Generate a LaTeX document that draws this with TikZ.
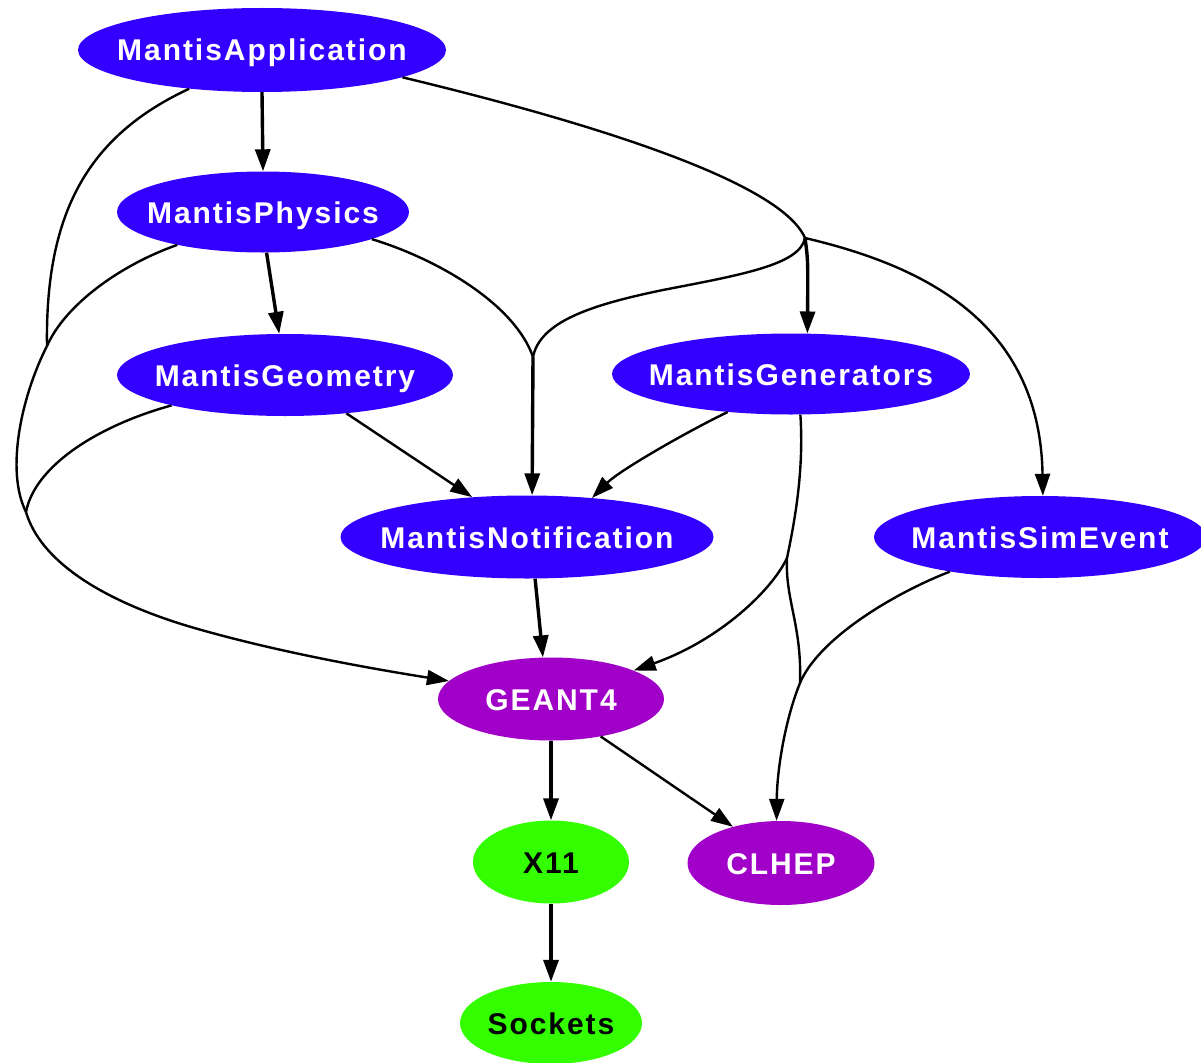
\documentclass[tikz,border=0pt]{standalone}
\usepackage{fontspec}
\newfontfamily\lblfont{Liberation Sans}[LetterSpace=6.5]
\usetikzlibrary{shapes.geometric,arrows.meta}
\definecolor{nblue}{RGB}{51,0,255}
\definecolor{npurple}{RGB}{160,0,200}
\definecolor{ngreen}{RGB}{51,255,0}
\begin{document}
\begin{tikzpicture}[x=1pt,y=-1pt,
  nd/.style={ellipse, draw=none, inner sep=0pt},
  lbl/.style={font=\lblfont\bfseries\fontsize{30}{30}\selectfont, text height=22pt, text depth=0pt, inner sep=0pt},
  wlbl/.style={lbl,text=white},
  blbl/.style={lbl,text=black},
  seg/.style={line width=2.4pt},
  conn/.style={line width=2.4pt,-{Triangle[length=22pt,width=15pt]}},
  vconn/.style={conn,line width=3.4pt}]
\useasboundingbox[fill=white] (0,0) rectangle (1201,1062);
% nodes
\node[nd, fill=nblue, minimum width=368pt, minimum height=84pt, label={[wlbl,name=app-l]center:MantisApplication}] (app) at (262,50) {};
\node[nd, fill=nblue, minimum width=292pt, minimum height=81pt, label={[wlbl,name=phys-l]center:MantisPhysics}] (phys) at (263,212) {};
\node[nd, fill=nblue, minimum width=336pt, minimum height=82pt, label={[wlbl,name=geom-l]center:MantisGeometry}] (geom) at (285,375) {};
\node[nd, fill=nblue, minimum width=358pt, minimum height=81pt, label={[wlbl,name=gen-l]center:MantisGenerators}] (gen) at (791,374) {};
\node[nd, fill=nblue, minimum width=373pt, minimum height=83pt, label={[wlbl,name=notif-l]center:MantisNotification}] (notif) at (527,537) {};
\node[nd, fill=nblue, minimum width=332pt, minimum height=82pt, label={[wlbl,name=sim-l]center:MantisSimEvent}] (sim) at (1040,537) {};
\node[nd, fill=npurple, minimum width=226pt, minimum height=83pt, label={[wlbl,name=geant-l]center:GEANT4}] (geant) at (551,699) {};
\node[nd, fill=ngreen, minimum width=156pt, minimum height=83pt, label={[blbl,name=x11-l]center:X11}] (x11) at (551,862) {};
\node[nd, fill=npurple, minimum width=187pt, minimum height=84pt, label={[wlbl,name=clhep-l]center:CLHEP}] (clhep) at (781,863) {};
\node[nd, fill=ngreen, minimum width=182pt, minimum height=82pt, label={[blbl,name=sock-l]center:Sockets}] (sock) at (551,1023) {};
% junctions
\coordinate (j1) at (805,238);
\coordinate (j2) at (533,357);
\coordinate (j3) at (47,346);
\coordinate (j4) at (26,512);
\coordinate (j5) at (787,558);
\coordinate (j6) at (800,683);
% edges
\draw[vconn] (app.south) -- (phys.north);
\draw[seg] (app.-11) .. controls (580,120) and (780,180) .. (j1);
\draw[vconn] (j1) .. controls (808,260) .. (gen.68);
\draw[seg] (j1) .. controls (800,265) and (740,275) .. (663,290) .. controls (590,305) and (540,322) .. (j2);
\draw[vconn] (j2) -- (notif.83);
\draw[conn] (j1) .. controls (920,265) and (1040,320) .. (sim.86);
\draw[seg] (app.208) .. controls (90,135) and (45,210) .. (j3);
\draw[seg] (phys.201) .. controls (120,265) and (65,305) .. (j3);
\draw[seg] (j3) .. controls (22,395) and (5,470) .. (j4);
\draw[seg] (geom.195) .. controls (100,425) and (35,465) .. (j4);
\draw[conn] (j4) .. controls (40,560) and (100,600) .. (191,627) .. controls (280,653) and (380,670) .. (geant.170);
\draw[vconn] (phys.-85) -- (geom.98);
\draw[seg] (phys.-14) .. controls (440,260) and (515,305) .. (j2);
\draw[conn] (geom.-32) -- (notif.144);
\draw[conn] (gen.211) .. controls (690,430) and (620,470) .. (notif.31);
\draw[seg] (gen.-77) .. controls (804,470) and (795,520) .. (j5);
\draw[conn] (j5) .. controls (772,590) and (720,640) .. (geant.19);
\draw[seg] (j5) .. controls (785,600) and (802,625) .. (j6);
\draw[seg] (sim.201) .. controls (890,595) and (818,640) .. (j6);
\draw[conn] (j6) .. controls (785,720) and (777,770) .. (clhep.96);
\draw[vconn] (notif.-79) -- (geant.101);
\draw[vconn] (geant.south) -- (x11.north);
\draw[conn] (geant.-37) -- (clhep.143);
\draw[vconn] (x11.south) -- (sock.north);
\end{tikzpicture}
\end{document}
